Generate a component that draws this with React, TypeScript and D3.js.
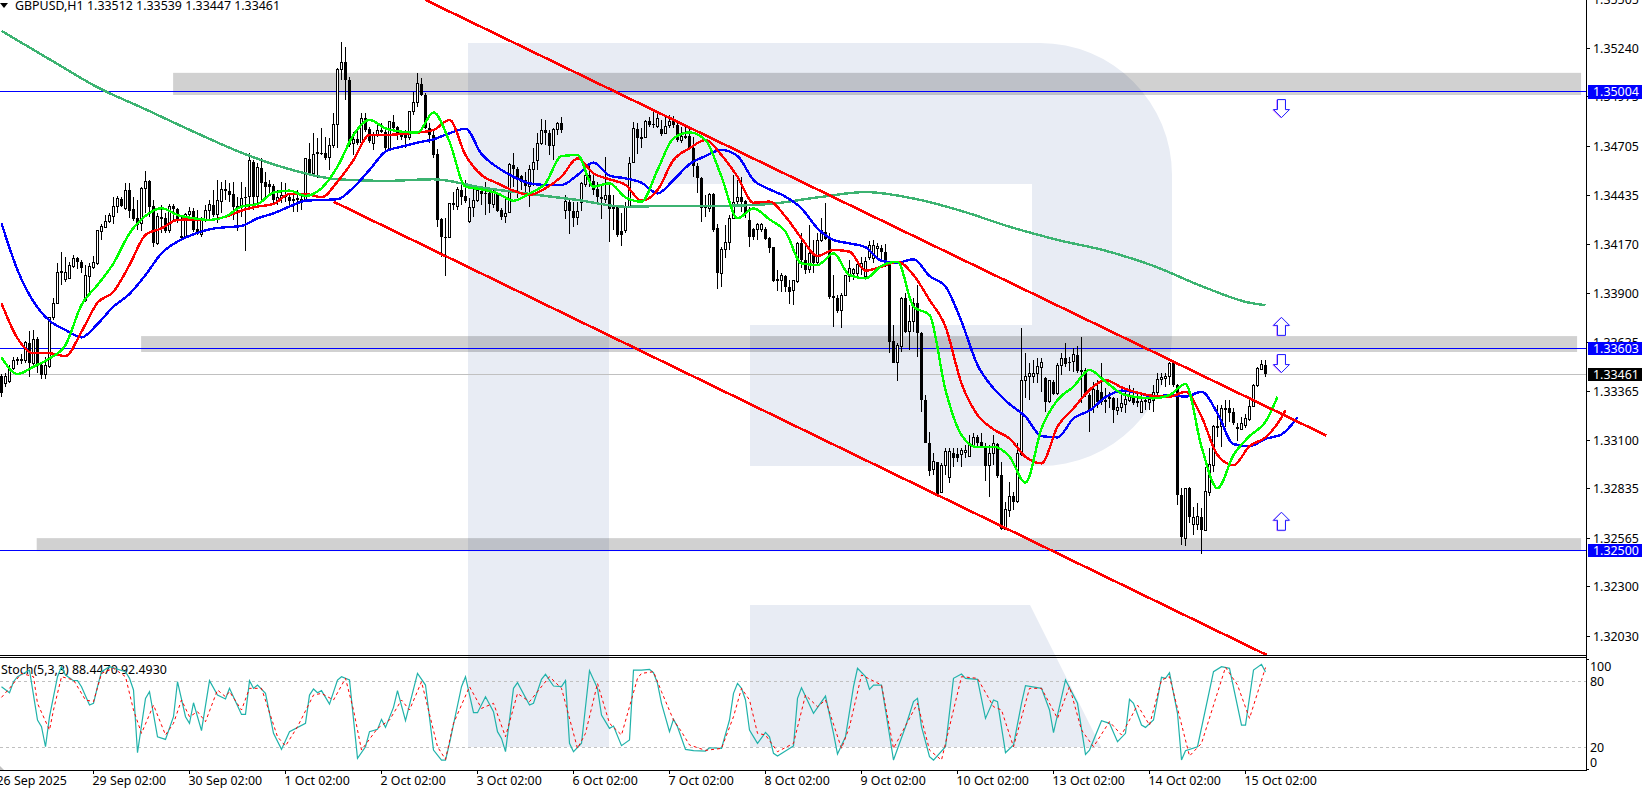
import React, { useRef, useEffect } from 'react';
import * as d3 from 'd3';

// all prices below are pips above 1.32000
const BASE = 1.32;
const toPrice = (p: number) => BASE + p / 10000;

const highs = [
  146.2,146.6,151.1,155.7,155.7,157.1,164.4,169.9,170.2,166.2,
  152,155.7,177.5,187.5,206.6,213,210.3,207.5,211.2,210.3,
  208.4,205.7,206.6,210.6,224.8,228.1,233,233.9,243,243.4,
  243,250.3,250.3,243,241.2,248.5,257,252.1,241.2,233.9,
  238.5,233.9,239,239,236.7,233,233.9,237.6,236.7,235.7,
  232.1,238.5,241.2,246.7,252.1,251.2,252.1,250.3,251.2,243,
  251.2,248.5,267,263,261.2,264,256.7,252.1,250,246.7,
  251.2,250.3,244.8,245.7,246.7,243.9,264,272.1,277.6,274.9,
  280.3,275.8,274.9,288.5,313.1,327.3,324.6,308.2,278.5,279.4,
  288.5,288.5,281.2,278.5,282.2,283.1,279.4,284.5,287.6,281.6,
  279.4,279.4,290,300.3,310.4,307.6,299.4,283,279.4,268.8,
  231.2,231.2,239.7,245.7,248.5,250.3,252.1,242.1,248.5,247.6,
  248.5,251.2,246.6,247.6,245.7,236.6,243,261.2,266.7,259,
  254.8,256.7,260.3,269.4,277.6,285.2,284.9,279.4,280.3,283.9,
  286.3,243.9,241.2,240.3,240.3,251.2,255.7,261.2,255.7,251.2,
  249.4,264.5,250.3,243.9,238.5,233.9,240.3,264.5,283.9,283.4,
  280.3,284.9,286.7,290.7,288.5,284.9,287.6,287.6,287,283.9,
  281.2,282.1,281.2,275.8,261.2,253.6,243.9,244.8,244.8,228.1,
  215.7,227.5,233,254.8,252.1,253.9,241.2,237.5,225.7,228.8,
  228.4,226.3,221.2,215.7,203,201.1,200.2,197.5,197.5,218.4,
  223,217.5,227.5,219.4,223,231.2,239.4,223,200.3,189.3,
  190.2,200.3,208.4,203.9,207.5,210.3,210.3,219,219.4,217.9,
  216.6,217.2,207.5,173,163,188.4,190.2,183.9,187.5,194.8,
  169,134.7,114.7,102.9,98.3,97.4,105.6,105.6,105.6,105.6,
  105.6,107.4,112.9,113.8,112.9,114.2,108.3,107.4,112.9,108.3,
  98.3,76.5,87.4,82,108.3,171.1,157.5,152,153.8,154.8,
  154.8,144.7,142.9,142.9,152,157.8,162.9,155.7,160.2,161.5,
  166.2,149.3,135.6,142,142.9,152.4,138.4,136.5,133.8,132.9,
  134.7,136.5,140.2,138.4,135.6,134.7,133.8,134.7,140.2,146.9,
  146.6,146.9,152.9,152.9,141,83.7,83.7,84.6,73.7,75.5,
  72.8,95.5,105.6,118.3,129.2,129.2,131.9,131.9,127.4,119.2,
  122.5,124.3,132.9,141,150.1,153.8,153.9,
];

const lows = [
  133.8,139.3,141.5,148.4,151.1,151.7,152,144.7,151.1,146.6,
  143.3,143.3,149.3,175.7,184.4,194.8,196.6,197.9,203.9,203.3,
  201.2,185.7,190.2,203.3,205.7,219.4,225.7,228.8,228.1,233.9,
  237.2,235.7,231.2,229.9,224.8,224.5,233.9,232.1,215.7,216.6,
  223,223,223.4,230.3,228.8,219.4,220.8,230.3,223.9,222.1,
  220.8,229.4,230.3,232.1,228.5,233.9,241.2,240.3,230.3,224.5,
  232.1,213.5,237.6,235.7,238.5,241.2,242.1,244.8,239,238.5,
  239.4,240.3,236.7,234.8,234.8,235.7,240.3,254.9,254.3,253,
  265.8,263,257.6,269.4,269.4,306.7,295.8,270.3,265.8,271.2,
  272.1,278.5,272.1,268.5,275.8,277.6,268.5,268.1,278.5,274,
  274,269.4,274,287.6,291.8,298,279.8,272.1,263.9,226.6,
  210.2,199.9,220.3,235.7,235.7,238.5,239.4,228.5,232.1,240.3,
  238.5,233,233.9,236.6,234.8,230.3,228.8,233.9,248.5,242.1,
  246.6,243,237.2,248.8,257.6,271.2,271.2,265.8,263,276.7,
  277.9,230.6,222.6,226.3,227.6,235.4,248.5,248.5,243.9,240.3,
  230.6,239.4,218.4,224.8,221.2,216.2,223,236.6,261.2,266.3,
  269.4,274.9,281.2,280.3,280.3,276.1,277.2,280.3,280.3,273,
  272.5,274.3,268.5,253.9,244.8,229.4,232.1,234.8,223.9,192.4,
  193.9,209.3,213.9,230.6,238.5,234.8,231.2,215.7,219.3,219.3,
  223.9,219.3,212.1,196.6,191.7,191.1,191.1,184.4,183.9,195.7,
  203.9,200.8,201.2,201.2,206.3,218.5,219.4,187,172,179.3,
  171.1,188.8,196.6,197.5,199.3,200.3,198.4,208.4,206.6,208.4,
  207.5,204.8,157.8,152,142.6,158.4,168.4,159.3,169.3,155.7,
  125.6,108.3,90.5,91.1,79.6,81,91.1,86.5,95.6,98.3,
  95.6,100.1,100.7,105.6,105.6,105.6,88,79.2,96.5,89.2,
  61,61,68.3,72,76,101.4,132.9,132,141.1,141.1,
  136.6,125.6,130.5,134.7,134.7,145.6,150.2,148,147.5,146.9,
  130.2,133.8,114.7,124.7,127.5,129.3,124.7,127.5,119.3,123.8,
  125.6,125.1,131.1,129.3,128.4,124.7,126.5,126.5,125.6,133.8,
  140.2,139.3,140.2,139.3,74.6,52.8,52.2,64.6,58.2,61,
  48.2,60.6,79.5,92.8,111.9,106.5,117.4,120.1,118.3,109.7,
  115.6,116.5,120.7,128.3,139.2,148.3,144.7,
];

const opens = [
  145.1,141.1,142,149.3,153.5,154.2,153.5,163.3,152,165.1,
  151.1,145.7,150.2,177.1,184.8,201.5,197.9,198.4,204.8,209.4,
  207.5,186.2,199.3,204.3,206.6,223.9,226.3,229.4,232.1,237.6,
  241.7,236.7,246.7,236.1,231.2,228.1,247.6,251.6,237.9,217.5,
  232.1,231.2,224.5,237.9,236.1,221.5,221.5,233,235.4,225.2,
  222.6,230.6,235.4,238.5,233,240.3,247,246.1,244.3,237.2,
  237.2,243,243,262.1,243,258.5,251.2,250,249,240.7,
  242.1,243.9,242.7,240.8,242.1,240.7,241.2,263.4,255.4,266.3,
  267,267,264.3,270.7,282.2,312.2,316.4,306.7,271.8,274.3,
  272.5,285.8,279.8,272.1,276.7,279.4,278.3,269,284,280.9,
  278.5,276.7,275.4,289.4,294.3,304.5,298.5,280.3,276.7,266.3,
  230.6,221.2,220.8,239,237.5,246.6,243.4,229.4,237.2,240.8,
  246.3,245.2,245.2,239,244.8,235.7,232.1,234.3,260.3,257.9,
  254.3,252.1,248.8,258.1,263,272.1,279.4,277.6,270.7,279.8,
  283,235.4,240.3,235.4,231.7,239.7,249.4,254.8,251.7,247,
  243,241.5,243.9,238.5,237.2,224.4,224.4,237.2,261.6,279.8,
  275.8,275.4,284.1,282.7,281.2,279.8,277.6,281.6,284.9,282.1,
  273.6,275.4,276.1,269.4,259.7,253,237.5,236.6,244.5,225.7,
  201.1,214.4,218.1,231.2,240.3,242.6,240.8,230.3,225.2,225.3,
  225.3,225.3,220.3,215.3,197.1,197.1,199.7,193.5,191.7,196.6,
  217.5,208.4,203,212.4,207,219,223.9,220.6,188.8,187.5,
  180.8,189.3,199.3,200.8,200.8,204.8,199.3,209.9,209.3,214.8,
  215.2,212.6,206.6,164.2,152.6,161.1,187.5,169.3,174.8,184.8,
  168.4,132,108.7,93.8,98.3,81.4,96.5,89.8,102.9,102.5,
  102.5,103.4,101.4,107.4,111.6,109.3,106.9,96.3,102.9,107.8,
  91.1,61.4,71.6,79.6,76.5,102.5,142.6,144.7,144.7,146.2,
  149.8,143.8,131.1,142,135.3,150.7,154.8,152.9,152.9,156.6,
  148.4,148.4,134.7,128,137.5,136.5,132,133.5,132.9,126.5,
  128,129.8,132,133.8,131.5,125.3,131.1,130.7,132,136,
  143.3,143.8,145.1,152,140.1,80.1,56.4,83.7,64.2,64.2,
  68.2,61,81.3,96.4,117,117.4,126.8,127.4,125.6,116.5,
  115.9,118.3,121.4,128.7,139.8,148.9,151.2,
];

const closes = [
  135.6,145.1,149.3,153.8,154.2,153.1,163.3,152.4,164.8,151.7,
  145.7,150.6,177.1,184.8,201.7,202.1,201.7,205.2,209.4,207.5,
  203.9,199.9,204.8,207,224.3,226.6,229.4,232.5,237.9,242.1,
  237.9,246.3,235.4,230.6,227.6,247.6,251.2,237.6,217.9,232.1,
  231,224.5,237.9,236.1,230.3,220.3,233.4,235,224.8,222.6,
  231.2,235.7,238.5,233,240.7,247,245.9,243.9,237.2,237.9,
  242.1,242.7,262.5,243,259,250.3,248.5,248.5,241.2,242.5,
  243.9,243,240.8,241.7,241.2,241.6,263.6,255.4,266.1,267,
  266.7,264,271.2,282.2,312.5,316.4,306.7,271.2,274.3,272.1,
  285.8,279.4,273.6,277,279,278.5,269.4,284,280.3,277.6,
  275.4,274.9,289.4,294.5,304.9,298.5,280.3,276.7,265.8,230.3,
  220.8,220.3,239.4,239.4,247,243,240.8,237.2,240.8,246.3,
  244.5,244.5,239,245.2,235.4,231.7,233.9,260.3,257.9,253,
  251.2,248.8,258.1,261.6,272.1,279,277.6,270.4,279.8,283,
  279.4,240.3,235.4,231.5,234.8,250.3,254.8,251.7,246.6,243,
  241.5,243.9,236.1,236.1,222.1,222.1,237.2,261.2,280.3,274.9,
  274.7,284.1,282.3,282,285.8,277.2,281.2,284.3,282.1,273.9,
  276.1,276.1,269.4,259.7,253,236.6,236.6,244.3,224.8,201.1,
  214.4,218.1,231.2,239.7,242.6,240.3,233.9,221.2,221.2,227.9,
  227.9,219.9,215.2,197.1,197.9,199.7,193.9,191.1,197,217.5,
  208.4,203,212,207,219,224.5,219.7,188.4,187.5,180.6,
  189.3,199.7,203.9,203.3,205.7,206.6,207.5,216.6,216.6,215.7,
  212.6,205.7,163.9,152.4,161.7,187.3,169.3,174.8,184.8,168.4,
  132,108.7,93.4,98.3,80.1,96.5,103.8,103.8,100.1,100.1,
  104.3,104.7,108.3,111.6,108.3,106.5,96.1,102.9,108.3,90.5,
  61.4,72,79.2,76.5,102.9,142.9,144.7,146.2,146.6,150.2,
  152.6,131.1,142.4,135.3,150.7,154.4,151.7,152,156.6,148,
  147.5,134.7,126.5,137.5,131.1,131.1,131.1,132.7,126.5,128,
  130.2,132.4,133.8,130.2,130.5,131.1,132,132.4,136,143.3,
  144.4,145.1,152,140.2,80.1,57,83.7,67.9,67.9,68.2,
  61,81.9,97,117.4,117.7,127.4,127.4,125,119.2,117,
  119.2,121.9,128.7,140.1,149.2,151.6,146.1,
];

// moving averages, read every few bars
const blueBars = d3.range(0, 325, 4);
const blueMA = [
  228.5,203,185.7,175.3,170.2,166.2,173.5,183,189.9,200.2,212.1,218.5,222.5,225.2,226.3,227,231.2,233.9,237.6,240.8,241.2,241.6,248.1,257.6,267.6,270.3,272.5,
  274.3,277.6,280.1,266.3,259,253.9,250.3,249.4,249.4,254.8,261.6,254.5,253,250.6,244.8,252.1,260.7,265.2,268.5,265.2,252.1,247,243,236.6,225.7,
  219.4,217.5,215.4,208,207,208.8,199.7,193.9,174.8,151.1,138.4,129.8,122.9,112.3,111.6,122,126.2,133.5,137.1,136,133.8,134.7,133.8,136.5,124.7,
  107.9,106.8,110.8,113.2,122.5,
];
const redBars = [...d3.range(0, 321, 4), 321];
const redMA = [
  184.8,165.7,157.5,157.5,156,169.3,185.1,191.1,205.7,222.1,225.7,230.3,230.6,230.3,232.1,235.4,237.6,239,244.5,244.5,242.7,251.2,263,276.7,276.7,277.2,278,
  279.4,284.9,265.7,254.8,250.3,246.3,243.9,247.6,253.9,263.9,255.7,252.5,249.4,240.8,246.6,263,269.4,273.9,265.7,253.9,239.7,240.3,232.1,220.3,
  210.6,213.9,213,202.6,204.8,207.5,200.2,186.6,172,141.1,123.8,116,111,101,97.4,117.4,127.5,137.5,142.9,138.9,136,134.2,133.8,136.5,122.9,102,
  96.4,106.8,111.6,122.5,126.5,
];
const limeBars = [...d3.range(0, 317, 4), 319];
const limeMA = [
  155.3,146.2,150.2,154.7,162,183.9,194.8,206.6,223,232.5,236.7,233,231.2,230.3,232.1,237.6,239,245.2,246.3,243.4,247.6,259.4,276.7,284.9,280.3,278.5,278,
  289,273,248.5,247,244.8,240.8,244.8,250.3,265.2,265.7,248.5,250.3,242.6,240.3,257.6,274.9,278.1,273.9,253.9,231.2,236.6,230.6,223.9,206.6,
  205.7,212,200.2,198.4,205.2,207.5,183,178.4,137.5,112.9,106.2,106.5,101,86.9,116.5,132,139.3,148.4,142,135.6,133.5,132.9,134.7,140.7,106.5,83.8,
  101.9,112.3,120.1,133.8,
];
const greenBars = [...d3.range(0, 313, 12), 316];
const greenMA = [
  333.5,318,302.7,290.7,278.5,267,258,252.5,251.6,252.5,248,244.5,241.2,237.5,238,238,239,242.6,245.5,242,235.2,226.6,219.4,213.5,205.2,194.2,185.1,183.8,
];

// stochastic %K
const stochBars = [
  0,2,3,4,7,8,9,10,11,12,14,15,16,18,19,20,22,23,24,25,27,31,32,33,34,36,37,39,41,43,44,46,47,48,50,52,54,56,57,60,61,62,63,64,66,68,70,72,76,77,78,79,80,82,84,85,87,89,91,92,94,95,96,98,99,101,104,106,108,110,111,112,115,116,118,119,121,123,124,125,126,128,129,132,133,135,136,138,140,141,142,143,145,147,149,150,152,153,155,157,158,160,
  162,163,164,165,167,168,169,171,173,176,177,180,182,183,184,185,186,187,189,191,192,193,194,198,199,200,203,206,208,209,211,213,214,216,217,218,220,221,223,226,228,229,230,232,233,236,238,240,241,244,246,248,249,251,253,255,256,260,262,263,266,269,271,272,275,277,279,281,282,283,285,286,288,290,291,292,294,295,296,299,303,305,307,310,311,313,315,316,
];
const stochMain = [
  75.1,69.6,79.6,84.2,90.2,67.5,44.8,38.7,20.5,47.8,84.2,93.3,85.7,80.6,80.6,75.1,58.4,60,75.1,88.7,93.3,88.7,82.7,72.1,15.1,64.5,70.6,29.6,27.2,47.8,79.6,47.8,41.8,60.5,35.1,80.6,67.5,63.9,73.6,49.9,49.9,80.6,73.6,76.6,69,32.7,18.1,34.2,41.8,67.5,73,69.6,71.5,59.3,81.2,84.2,81.2,9.9,20.5,34.2,36.3,45.4,38.1,56.3,71.5,44.2,87.2,76.6,17.5,8.4,8.4,23.6,75.1,84.2,51.5,51.5,66,52.4,34.2,28.1,16,73.6,78.7,58.4,60,81.8,86.3,75.7,75.1,80.6,23.6,16,23.6,89.6,73.6,49.3,37.2,39.3,21.5,26.6,90.2,90.2,
  90.9,87.8,78.1,60,34.2,45.4,38.7,18.1,16.9,16.6,19.6,19,44.8,69,78.1,73.6,63,35.7,23.6,33.6,29.6,14.5,12.1,21.2,64.5,74.2,50.9,66.6,32.7,13.9,29.6,75.1,91.8,84.2,72.7,76.6,76.6,53.9,8.4,38.7,61.5,64.5,38.7,11.5,8.4,20.5,82.7,86.6,82.7,81.8,46.3,63,61.5,15.1,22.1,60,76,73.6,53.9,33.3,81.2,60,13.6,17.5,44.2,41.8,25.1,32.7,63.6,60,40.2,38.1,44.8,83.6,82.7,87.8,50.9,8.4,16.9,20.5,88.7,93.3,91.8,40.2,40.2,90.2,95.4,88.4,
];
// stochastic %D
const signalBars = [
  0,2,5,8,9,12,13,15,18,21,23,25,28,31,33,35,38,41,43,45,47,49,51,54,56,57,60,62,65,69,71,74,78,80,83,86,88,90,94,97,100,102,105,109,111,113,117,120,123,126,129,132,137,140,144,146,149,152,155,159,
  160,163,165,168,170,172,176,180,183,185,187,189,191,194,198,201,204,206,210,212,215,220,223,229,232,235,237,240,244,248,250,253,257,260,264,267,270,273,277,280,284,287,290,292,297,300,306,309,312,316,
];
const stochSignal = [
  65.4,73.6,87.2,84.2,59.9,35.7,53.9,84.2,81.2,63,61.5,87.2,91.8,84.2,53.9,32.7,58.4,31.2,41.8,63,47.8,52.4,43.3,72.1,66,70.6,53.9,73.6,73.6,29.6,21.2,38.7,67.5,69,63,82.7,53.9,17.5,37.2,44.8,63,53.9,79.6,20.5,9,41.8,75.1,55.4,60,29.6,69,61.5,84.2,73.6,19,32.7,78.1,41.8,31.2,82.7,
  87.2,88.7,70.6,44.8,34.2,22.1,17.2,19,47.8,73.6,63,32.7,31.2,16,23.6,67.5,56.9,63,19,38.7,85.7,76.6,19,60,17.5,8.4,38.7,84.2,82.7,56.9,53.9,20.5,73.6,73.6,46.3,75.1,35.7,20.5,43.3,31.2,58.4,40.2,81.2,84.2,12.1,23.6,92.7,76.6,46.3,92.5,
];

const priceTicks = [1.35505, 1.3524, 1.34975, 1.34705, 1.34435, 1.3417, 1.339, 1.33635, 1.33365, 1.331, 1.32835, 1.32565, 1.323, 1.3203];
const dateBars = [-1, 23, 47, 71, 95, 119, 143, 167, 191, 215, 239, 263, 287, 311];
const dateLabels = ['26 Sep 2025', '29 Sep 02:00', '30 Sep 02:00', '1 Oct 02:00', '2 Oct 02:00', '3 Oct 02:00', '6 Oct 02:00', '7 Oct 02:00', '8 Oct 02:00', '9 Oct 02:00', '10 Oct 02:00', '13 Oct 02:00', '14 Oct 02:00', '15 Oct 02:00'];
const levelPrices = [1.35004, 1.33603, 1.325];
const lastPrice = 1.33461;
const zoneBars = [[42.9, 394.9], [34.9, 393.9], [8.8, 394.9]];
const zonePrices = [[1.35106, 1.34985], [1.33669, 1.33582], [1.32566, 1.32495]];
const channelBars = [[106, 331.2], [83, 316.3]];
const channelPrices = [[1.35504, 1.33126], [1.34403, 1.31928]];
const arrowBars = [320, 320, 320, 320];
const arrowPrices = [1.34911, 1.33722, 1.33519, 1.32658];
const arrowDirs = [1, -1, 1, -1];
const stochLevels = [80, 20];
const stochTicks = [100, 80, 20, 0];

const FONT = '"Noto Sans", sans-serif';
const AXIS_X = 1586;

const App: React.FC = () => {
  const svgRef = useRef<SVGSVGElement>(null);

  useEffect(() => {
    if (!svgRef.current) return;
    const svg = d3.select(svgRef.current);
    svg.selectAll('*').remove();

    const x = d3.scaleLinear().domain([0, 316]).range([1.5, 1265.5]);
    const y = d3.scaleLinear().domain([1.3524, 1.3203]).range([48.3, 636.3]);
    const ys = d3.scaleLinear().domain([0, 100]).range([769.3, 659.3]);

    const defs = svg.append('defs');
    defs.append('clipPath').attr('id', 'main').append('rect').attr('width', AXIS_X).attr('height', 655);
    defs.append('clipPath').attr('id', 'sub').append('rect').attr('y', 658).attr('width', AXIS_X).attr('height', 112);

    // watermark logo
    svg.append('path')
      .attr('fill', '#e8ecf4')
      .attr('d', 'M468,43H1040A132,132 0 0 1 1172,175V334A132,132 0 0 1 1040,466H750V325H1032V184H609V747H468Z M750,605H1030L1101,747H750Z');

    const main = svg.append('g').attr('clip-path', 'url(#main)');

    // grey zones
    main.selectAll('rect.zone').data(zoneBars).join('rect')
      .attr('x', d => x(d[0]))
      .attr('width', d => x(d[1]) - x(d[0]))
      .attr('y', (_, i) => y(zonePrices[i][0]))
      .attr('height', (_, i) => y(zonePrices[i][1]) - y(zonePrices[i][0]))
      .attr('fill', '#000').attr('fill-opacity', 0.18);

    // horizontal levels
    main.append('line').attr('x1', 0).attr('x2', AXIS_X).attr('y1', y(lastPrice)).attr('y2', y(lastPrice))
      .attr('stroke', '#c0c0c0').attr('shape-rendering', 'crispEdges');
    main.selectAll('line.level').data(levelPrices).join('line')
      .attr('x1', 0).attr('x2', AXIS_X)
      .attr('y1', d => y(d)).attr('y2', d => y(d))
      .attr('stroke', '#0000ff').attr('shape-rendering', 'crispEdges');

    // candles
    const candles = main.append('g').attr('shape-rendering', 'crispEdges');
    highs.forEach((h, i) => {
      const cx = x(i);
      const top = y(toPrice(Math.max(opens[i], closes[i])));
      const bottom = y(toPrice(Math.min(opens[i], closes[i])));
      const up = closes[i] >= opens[i];
      candles.append('rect').attr('x', cx - 0.5).attr('width', 1)
        .attr('y', y(toPrice(h))).attr('height', y(toPrice(lows[i])) - y(toPrice(h))).attr('fill', '#000');
      if (up) {
        candles.append('rect').attr('x', cx - 1).attr('width', 2)
          .attr('y', top).attr('height', Math.max(bottom - top, 1))
          .attr('fill', '#fff').attr('stroke', '#000');
      } else {
        candles.append('rect').attr('x', cx - 1.5).attr('width', 3)
          .attr('y', top).attr('height', Math.max(bottom - top, 1)).attr('fill', '#000');
      }
    });

    // moving averages
    const drawMA = (bars: number[], vals: number[], color: string) => {
      const line = d3.line<number>()
        .x((_, i) => x(bars[i]))
        .y(d => y(toPrice(d)))
        .curve(d3.curveMonotoneX);
      main.append('path').attr('d', line(vals) as string)
        .attr('fill', 'none').attr('stroke', color).attr('stroke-width', 2.4)
        .attr('shape-rendering', 'crispEdges');
    };
    drawMA(greenBars, greenMA, '#3cb371');
    drawMA(blueBars, blueMA, '#0000ff');
    drawMA(redBars, redMA, '#ff0000');
    drawMA(limeBars, limeMA, '#00ff00');

    // channel
    channelBars.forEach((b, i) => {
      main.append('line')
        .attr('x1', x(b[0])).attr('x2', x(b[1]))
        .attr('y1', y(channelPrices[i][0])).attr('y2', y(channelPrices[i][1]))
        .attr('stroke', '#ff0000').attr('stroke-width', 2.6)
        .attr('shape-rendering', 'crispEdges');
    });

    // arrows
    arrowBars.forEach((b, i) => {
      const cx = x(b), cy = y(arrowPrices[i]), s = arrowDirs[i];
      const p = d3.path();
      p.moveTo(cx - 4, cy - 9 * s);
      p.lineTo(cx + 4, cy - 9 * s);
      p.lineTo(cx + 4, cy + s);
      p.lineTo(cx + 8, cy + s);
      p.lineTo(cx, cy + 9 * s);
      p.lineTo(cx - 8, cy + s);
      p.lineTo(cx - 4, cy + s);
      p.closePath();
      main.append('path').attr('d', p.toString()).attr('transform', 'translate(-0.7,0.4)')
        .attr('fill', 'none').attr('stroke', '#d070ff').attr('stroke-width', 1);
      main.append('path').attr('d', p.toString())
        .attr('fill', '#fff').attr('fill-opacity', 0.85).attr('stroke', '#2020ff').attr('stroke-width', 1);
    });

    // panel frame
    const frame = svg.append('g').attr('stroke', '#000').attr('shape-rendering', 'crispEdges');
    frame.append('line').attr('x1', AXIS_X + 0.5).attr('x2', AXIS_X + 0.5).attr('y1', 0).attr('y2', 771);
    frame.append('line').attr('x1', 0).attr('x2', AXIS_X).attr('y1', 655.5).attr('y2', 655.5);
    frame.append('line').attr('x1', 0).attr('x2', AXIS_X).attr('y1', 657.5).attr('y2', 657.5);
    frame.append('line').attr('x1', 0).attr('x2', AXIS_X).attr('y1', 770.5).attr('y2', 770.5);

    // price axis
    const labels = svg.append('g').attr('font-family', FONT).attr('font-size', 12.4).attr('fill', '#000');
    priceTicks.forEach(t => {
      frame.append('line').attr('x1', AXIS_X + 1).attr('x2', AXIS_X + 4).attr('y1', y(t)).attr('y2', y(t));
      labels.append('text').attr('x', 1593).attr('y', y(t) + 4.5).text(d3.format('.5f')(t));
    });

    // level tags
    const tagPrices = [...levelPrices, lastPrice];
    tagPrices.forEach(t => {
      const isLast = t === lastPrice;
      svg.append('rect').attr('x', 1588).attr('width', 54).attr('y', y(t) - 6.5).attr('height', 13.5)
        .attr('fill', isLast ? '#000' : '#0000ff').attr('shape-rendering', 'crispEdges');
      svg.append('text').attr('x', 1593).attr('y', y(t) + 4.5)
        .attr('font-family', FONT).attr('font-size', 12.4).attr('fill', '#fff')
        .text(d3.format('.5f')(t));
    });

    // stochastic
    const sub = svg.append('g').attr('clip-path', 'url(#sub)');
    sub.selectAll('line.lv').data(stochLevels).join('line')
      .attr('x1', 0).attr('x2', AXIS_X).attr('y1', d => ys(d)).attr('y2', d => ys(d))
      .attr('stroke', '#c0c0c0').attr('stroke-dasharray', '3,3').attr('shape-rendering', 'crispEdges');
    const stochLine = (bars: number[]) => d3.line<number>().x((_, i) => x(bars[i])).y(d => ys(d));
    sub.append('path').attr('d', stochLine(stochBars)(stochMain) as string)
      .attr('fill', 'none').attr('stroke', '#20b2aa').attr('stroke-width', 1.2);
    sub.append('path').attr('d', stochLine(signalBars)(stochSignal) as string)
      .attr('fill', 'none').attr('stroke', '#ff0000').attr('stroke-dasharray', '3,3');

    stochTicks.forEach(t => {
      labels.append('text').attr('x', 1590).attr('y', ys(t) + (t === 0 ? -2.5 : t === 100 ? 11.5 : 4.5)).text(String(t));
    });
    frame.append('line').attr('x1', AXIS_X + 1).attr('x2', AXIS_X + 3).attr('y1', ys(100)).attr('y2', ys(100));
    frame.append('line').attr('x1', AXIS_X + 1).attr('x2', AXIS_X + 3).attr('y1', ys(0)).attr('y2', ys(0));

    // date axis
    dateBars.forEach((b, i) => {
      frame.append('line').attr('x1', x(b)).attr('x2', x(b)).attr('y1', 771).attr('y2', 774);
      labels.append('text').attr('x', x(b) - 1).attr('y', 785).text(dateLabels[i]);
    });
    svg.append('path').attr('d', 'M0,766L4,770H0Z').attr('fill', '#c0c0c0');

    // header
    svg.append('path').attr('d', 'M0,3H8L4,8Z').attr('fill', '#000');
    labels.append('text').attr('x', 15).attr('y', 10).text('GBPUSD,H1');
    labels.append('text').attr('x', 87).attr('y', 10).text('1.33512 1.33539 1.33447 1.33461');
    labels.append('text').attr('x', 1).attr('y', 673.5).text('Stoch(5,3,3) 88.4470 92.4930');
  }, []);

  return (
    <svg ref={svgRef} width={1642} height={793}
      style={{ position: 'absolute', left: 0, top: 0, background: '#fff' }}></svg>
  );
};

export default App;
